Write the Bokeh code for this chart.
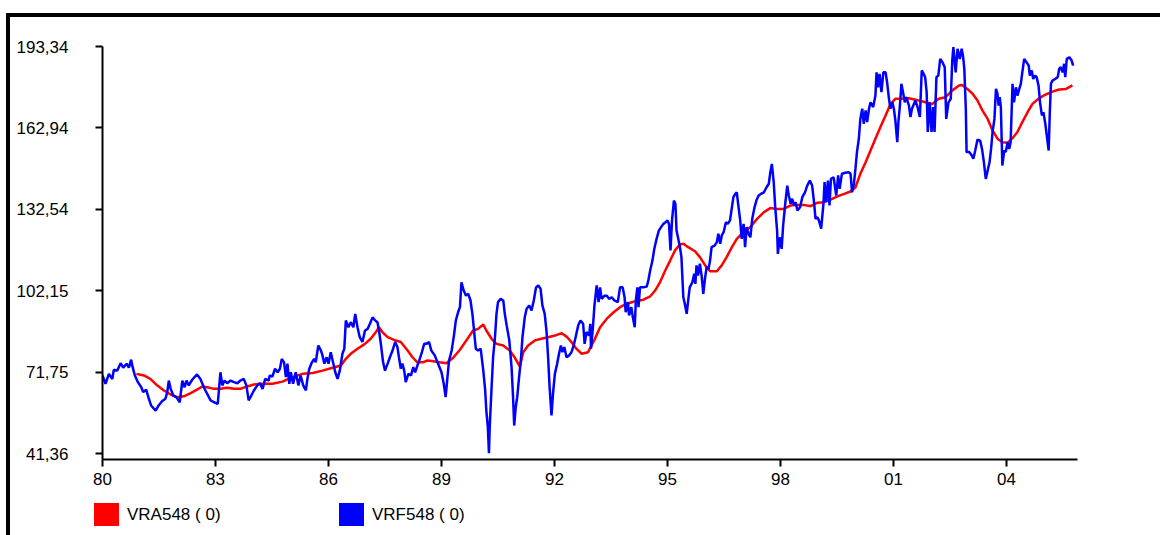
from bokeh.plotting import figure
from bokeh.layouts import column
from bokeh.models import Range1d, FixedTicker, Div
from bokeh.embed import file_html
from bokeh.resources import INLINE

# ---------------- data ----------------
blue_years = [
    1980.00, 1980.08, 1980.17, 1980.26, 1980.30, 1980.39, 1980.48, 1980.55, 1980.64, 1980.70,
    1980.76, 1980.80, 1980.86, 1980.94, 1981.03, 1981.08, 1981.16, 1981.23, 1981.29, 1981.41,
    1981.49, 1981.58, 1981.67, 1981.72, 1981.76, 1981.81, 1981.88, 1981.96, 1982.05, 1982.12,
    1982.18, 1982.23, 1982.29, 1982.38, 1982.51, 1982.60, 1982.69, 1982.78, 1982.87, 1982.96,
    1983.06, 1983.13, 1983.18, 1983.24, 1983.31, 1983.40, 1983.49, 1983.58, 1983.66, 1983.75,
    1983.82, 1983.88, 1983.95, 1984.02, 1984.11, 1984.18, 1984.25, 1984.32, 1984.41, 1984.44,
    1984.51, 1984.58, 1984.65, 1984.71, 1984.76, 1984.82, 1984.87, 1984.91, 1984.96, 1985.00,
    1985.06, 1985.13, 1985.20, 1985.26, 1985.33, 1985.40, 1985.44, 1985.49, 1985.56, 1985.62,
    1985.66, 1985.73, 1985.80, 1985.84, 1985.89, 1985.95, 1986.00, 1986.06, 1986.12, 1986.18,
    1986.24, 1986.30, 1986.37, 1986.42, 1986.46, 1986.53, 1986.59, 1986.66, 1986.71, 1986.77,
    1986.83, 1986.90, 1986.97, 1987.04, 1987.10, 1987.17, 1987.24, 1987.30, 1987.34, 1987.39,
    1987.45, 1987.50, 1987.57, 1987.63, 1987.70, 1987.77, 1987.83, 1987.87, 1987.92, 1987.96,
    1988.01, 1988.05, 1988.12, 1988.19, 1988.25, 1988.30, 1988.36, 1988.41, 1988.48, 1988.54,
    1988.60, 1988.67, 1988.73, 1988.82, 1988.91, 1989.00, 1989.06, 1989.11, 1989.15, 1989.20,
    1989.27, 1989.33, 1989.38, 1989.44, 1989.49, 1989.53, 1989.59, 1989.65, 1989.71, 1989.77,
    1989.82, 1989.86, 1989.91, 1989.97, 1990.04, 1990.11, 1990.16, 1990.19, 1990.23, 1990.26,
    1990.28, 1990.33, 1990.37, 1990.42, 1990.46, 1990.50, 1990.57, 1990.64, 1990.68, 1990.73,
    1990.80, 1990.86, 1990.90, 1990.93, 1990.97, 1991.01, 1991.06, 1991.11, 1991.15, 1991.21,
    1991.26, 1991.33, 1991.39, 1991.45, 1991.51, 1991.57, 1991.63, 1991.68, 1991.74, 1991.79,
    1991.83, 1991.87, 1991.92, 1991.96, 1992.01, 1992.07, 1992.12, 1992.17, 1992.21, 1992.26,
    1992.32, 1992.39, 1992.45, 1992.51, 1992.56, 1992.63, 1992.69, 1992.76, 1992.80, 1992.85,
    1992.92, 1992.95, 1992.97, 1993.02, 1993.06, 1993.12, 1993.17, 1993.21, 1993.25, 1993.33,
    1993.39, 1993.45, 1993.52, 1993.59, 1993.68, 1993.74, 1993.81, 1993.86, 1993.89, 1993.95,
    1993.98, 1994.04, 1994.08, 1994.13, 1994.16, 1994.20, 1994.23, 1994.27, 1994.36, 1994.45,
    1994.49, 1994.54, 1994.60, 1994.65, 1994.71, 1994.77, 1994.83, 1994.89, 1994.95, 1995.00,
    1995.04, 1995.08, 1995.12, 1995.17, 1995.21, 1995.24, 1995.28, 1995.33, 1995.37, 1995.42,
    1995.46, 1995.51, 1995.55, 1995.59, 1995.66, 1995.71, 1995.74, 1995.77, 1995.81, 1995.86,
    1995.91, 1995.95, 1996.00, 1996.04, 1996.09, 1996.13, 1996.17, 1996.25, 1996.31, 1996.35,
    1996.40, 1996.44, 1996.49, 1996.55, 1996.60, 1996.66, 1996.71, 1996.75, 1996.80, 1996.84,
    1996.88, 1996.93, 1996.97, 1997.02, 1997.06, 1997.10, 1997.15, 1997.20, 1997.25, 1997.31,
    1997.36, 1997.42, 1997.48, 1997.56, 1997.63, 1997.69, 1997.73, 1997.77, 1997.82, 1997.86,
    1997.91, 1997.93, 1997.98, 1998.03, 1998.07, 1998.13, 1998.18, 1998.22, 1998.27, 1998.31,
    1998.36, 1998.40, 1998.45, 1998.52, 1998.58, 1998.65, 1998.71, 1998.78, 1998.84, 1998.89,
    1998.93, 1998.98, 1999.02, 1999.08, 1999.14, 1999.17, 1999.21, 1999.26, 1999.30, 1999.34,
    1999.41, 1999.48, 1999.53, 1999.57, 1999.63, 1999.72, 1999.81, 1999.86, 1999.90, 1999.95,
    1999.99, 2000.03, 2000.08, 2000.12, 2000.17, 2000.21, 2000.26, 2000.30, 2000.35, 2000.39,
    2000.46, 2000.52, 2000.55, 2000.59, 2000.63, 2000.68, 2000.73, 2000.79, 2000.83, 2000.88,
    2000.92, 2000.97, 2001.01, 2001.05, 2001.10, 2001.13, 2001.17, 2001.21, 2001.26, 2001.30,
    2001.34, 2001.41, 2001.45, 2001.49, 2001.58, 2001.64, 2001.70, 2001.75, 2001.80, 2001.84,
    2001.88, 2001.91, 2001.96, 2002.01, 2002.05, 2002.09, 2002.14, 2002.19, 2002.24, 2002.30,
    2002.36, 2002.40, 2002.46, 2002.52, 2002.56, 2002.59, 2002.65, 2002.70, 2002.76, 2002.81,
    2002.85, 2002.88, 2002.92, 2002.94, 2003.01, 2003.08, 2003.12, 2003.17, 2003.23, 2003.30,
    2003.35, 2003.40, 2003.45, 2003.51, 2003.55, 2003.59, 2003.63, 2003.68, 2003.72, 2003.76,
    2003.79, 2003.82, 2003.85, 2003.89, 2003.94, 2003.98, 2004.03, 2004.07, 2004.11, 2004.16,
    2004.20, 2004.25, 2004.29, 2004.34, 2004.38, 2004.42, 2004.47, 2004.53, 2004.59, 2004.62,
    2004.67, 2004.71, 2004.76, 2004.80, 2004.85, 2004.89, 2004.94, 2004.98, 2005.03, 2005.07,
    2005.12, 2005.15, 2005.18, 2005.22, 2005.29, 2005.36, 2005.40, 2005.44, 2005.49, 2005.53,
    2005.56, 2005.60, 2005.67, 2005.73, 2005.77,
]
blue_values = [
    70.5, 67.4, 71.1, 69.2, 72.6, 72.3, 75.1, 73.4, 74.9, 73.4,
    76.4, 73.6, 70.5, 68.0, 66.1, 64.3, 65.2, 61.8, 59.3, 57.4,
    59.3, 60.9, 61.8, 64.3, 68.6, 65.5, 63.0, 62.4, 60.5, 68.6,
    66.1, 68.6, 66.8, 68.9, 70.9, 69.2, 66.1, 63.6, 61.2, 60.5,
    59.9, 71.7, 66.8, 68.6, 67.6, 68.6, 68.0, 67.6, 68.6, 69.2,
    66.8, 61.2, 63.0, 64.9, 66.8, 67.6, 65.5, 69.2, 68.6, 70.5,
    70.1, 73.0, 71.7, 73.0, 76.7, 75.4, 69.9, 74.9, 67.4, 71.7,
    67.4, 71.7, 66.8, 70.5, 66.8, 64.9, 69.2, 73.0, 75.4, 76.7,
    75.4, 81.7, 79.8, 78.0, 74.9, 77.3, 74.9, 79.2, 75.4, 71.7,
    69.2, 72.3, 78.6, 80.5, 91.0, 88.5, 90.4, 88.5, 93.5, 88.5,
    84.8, 83.0, 87.3, 87.9, 89.8, 92.2, 91.0, 90.4, 87.3, 82.3,
    75.4, 72.3, 74.9, 77.3, 79.8, 83.0, 81.1, 77.3, 73.0, 74.9,
    72.3, 68.0, 71.1, 70.5, 73.6, 71.7, 74.2, 76.1, 79.2, 82.3,
    82.3, 83.0, 79.8, 78.0, 74.9, 71.7, 67.4, 62.4, 68.6, 76.1,
    79.8, 85.4, 91.0, 94.1, 96.0, 105.3, 102.2, 100.3, 101.0, 98.5,
    93.5, 87.9, 80.5, 79.8, 80.5, 72.3, 64.9, 57.4, 51.2, 41.5,
    51.2, 66.1, 77.3, 84.8, 93.5, 97.9, 99.1, 98.5, 93.5, 89.2,
    83.6, 73.6, 62.4, 51.8, 58.6, 62.4, 69.9, 76.7, 84.8, 92.2,
    95.4, 96.6, 94.8, 98.5, 103.4, 104.1, 102.9, 96.6, 93.5, 86.7,
    77.3, 66.1, 55.6, 63.6, 71.1, 74.9, 78.6, 81.7, 79.2, 81.1,
    77.3, 78.0, 79.2, 81.7, 84.8, 89.2, 91.0, 89.8, 82.3, 86.7,
    85.4, 89.8, 80.5, 88.5, 96.6, 104.1, 97.9, 103.4, 99.1, 100.3,
    100.3, 99.1, 99.7, 98.5, 97.9, 103.4, 103.4, 99.7, 94.1, 97.9,
    92.9, 96.0, 92.2, 88.5, 98.5, 103.4, 96.0, 103.4, 103.4, 103.7,
    105.9, 109.7, 113.4, 117.8, 121.5, 124.6, 125.9, 127.1, 127.7, 128.4,
    127.1, 117.2, 128.4, 135.8, 134.6, 124.6, 121.9, 118.4, 114.7, 99.7,
    97.3, 93.5, 98.5, 103.4, 105.3, 108.5, 104.7, 111.6, 107.8, 112.2,
    107.2, 101.0, 107.2, 110.9, 110.3, 113.4, 118.4, 119.0, 120.3, 123.4,
    119.7, 122.8, 124.0, 127.7, 127.1, 128.4, 133.3, 137.1, 138.3, 138.9,
    134.0, 128.4, 121.5, 127.1, 118.4, 125.9, 123.4, 122.1, 129.0, 133.3,
    135.8, 137.7, 138.3, 138.9, 140.8, 142.1, 146.4, 149.5, 142.7, 133.3,
    124.6, 115.9, 122.1, 117.8, 126.5, 135.2, 141.4, 137.7, 134.6, 136.5,
    134.0, 135.2, 132.1, 133.3, 137.1, 138.9, 141.4, 143.3, 141.4, 135.2,
    129.0, 129.6, 128.4, 125.3, 134.6, 142.7, 135.2, 143.3, 134.0, 143.9,
    144.5, 137.7, 145.2, 140.2, 145.8, 146.2, 146.4, 145.8, 138.9, 142.1,
    147.7, 153.9, 158.9, 166.3, 170.1, 164.5, 169.5, 165.1, 170.1, 172.5,
    170.7, 175.0, 183.7, 178.1, 183.1, 176.3, 183.7, 183.7, 180.0, 173.8,
    170.1, 172.5, 170.1, 165.7, 157.6, 165.1, 171.3, 179.4, 175.7, 172.5,
    174.4, 171.3, 167.0, 170.1, 173.2, 170.7, 167.0, 184.4, 183.1, 181.9,
    176.3, 161.4, 172.5, 161.4, 170.7, 161.4, 181.9, 182.5, 188.7, 187.5,
    185.6, 166.3, 172.5, 173.8, 188.1, 193.1, 183.7, 192.5, 188.7, 192.5,
    189.3, 185.0, 170.1, 153.9, 153.9, 152.6, 151.4, 154.5, 158.6, 158.2,
    155.1, 150.1, 143.9, 147.7, 150.1, 155.1, 161.4, 166.3, 177.5, 175.7,
    171.3, 174.4, 170.7, 148.9, 154.5, 153.9, 157.6, 155.1, 157.6, 179.4,
    172.5, 178.1, 175.0, 177.5, 179.4, 183.7, 188.7, 187.5, 186.2, 182.5,
    184.4, 181.2, 182.5, 181.9, 178.8, 172.5, 167.6, 168.8, 164.5, 160.1,
    154.5, 168.8, 179.4, 180.6, 181.2, 181.9, 185.0, 185.6, 183.7, 186.9,
    181.9, 188.7, 189.3, 188.1, 186.2,
]

red_years = [
    1980.90, 1981.10, 1981.27, 1981.45, 1981.63, 1981.81, 1981.98, 1982.16, 1982.34, 1982.51,
    1982.65, 1982.78, 1982.96, 1983.13, 1983.31, 1983.49, 1983.66, 1983.84, 1984.02, 1984.19,
    1984.51, 1984.78, 1985.04, 1985.31, 1985.58, 1985.84, 1986.11, 1986.33, 1986.46, 1986.59,
    1986.77, 1986.95, 1987.12, 1987.26, 1987.34, 1987.43, 1987.57, 1987.74, 1987.92, 1988.10,
    1988.23, 1988.36, 1988.50, 1988.63, 1988.78, 1988.95, 1989.13, 1989.31, 1989.49, 1989.66,
    1989.84, 1989.97, 1990.11, 1990.19, 1990.33, 1990.46, 1990.64, 1990.81, 1990.95, 1991.08,
    1991.17, 1991.30, 1991.48, 1991.65, 1991.83, 1992.01, 1992.19, 1992.32, 1992.45, 1992.58,
    1992.72, 1992.89, 1993.05, 1993.21, 1993.39, 1993.57, 1993.74, 1993.92, 1994.14, 1994.36,
    1994.54, 1994.67, 1994.80, 1994.94, 1995.07, 1995.20, 1995.33, 1995.42, 1995.55, 1995.73,
    1995.86, 1996.00, 1996.13, 1996.31, 1996.44, 1996.57, 1996.71, 1996.84, 1996.97, 1997.10,
    1997.20, 1997.38, 1997.56, 1997.73, 1997.91, 1998.09, 1998.27, 1998.44, 1998.62, 1998.80,
    1998.98, 1999.15, 1999.33, 1999.51, 1999.69, 1999.86, 1999.99, 2000.12, 2000.26, 2000.39,
    2000.52, 2000.65, 2000.79, 2000.92, 2001.05, 2001.23, 2001.41, 2001.67, 2001.85, 2002.03,
    2002.20, 2002.38, 2002.56, 2002.74, 2002.82, 2002.96, 2003.10, 2003.23, 2003.36, 2003.50,
    2003.63, 2003.76, 2003.89, 2004.03, 2004.16, 2004.29, 2004.42, 2004.56, 2004.69, 2004.82,
    2004.96, 2005.09, 2005.22, 2005.40, 2005.58, 2005.75,
]
red_values = [
    71.1, 70.5, 69.2, 66.8, 64.9, 63.4, 62.4, 62.7, 63.9, 65.2,
    66.4, 66.1, 65.5, 65.5, 65.9, 65.5, 65.5, 66.4, 67.1, 67.4,
    67.4, 68.2, 69.9, 71.1, 71.4, 72.3, 73.4, 74.2, 76.7, 78.6,
    80.5, 82.1, 84.2, 86.7, 88.5, 86.7, 84.8, 83.8, 83.0, 79.8,
    77.3, 75.4, 75.4, 76.1, 75.8, 75.4, 75.1, 77.1, 80.1, 83.6,
    87.3, 87.9, 89.5, 87.3, 84.2, 82.3, 81.7, 79.8, 77.1, 73.8,
    79.2, 81.7, 83.6, 84.2, 84.8, 85.4, 86.3, 85.0, 83.0, 80.5,
    78.6, 79.2, 83.5, 88.5, 91.7, 94.1, 96.0, 97.3, 98.2, 98.8,
    100.0, 102.2, 105.3, 109.7, 113.4, 117.2, 119.4, 119.7, 118.4, 116.9,
    114.7, 111.6, 109.4, 109.4, 111.6, 114.7, 118.4, 121.5, 123.4, 124.9,
    125.9, 129.0, 131.5, 133.0, 132.7, 132.7, 134.0, 134.2, 134.2, 133.7,
    135.0, 135.2, 136.2, 137.4, 138.3, 139.2, 140.8, 145.8, 150.1, 154.5,
    158.9, 163.2, 167.6, 171.9, 173.8, 173.8, 174.0, 173.2, 172.5, 171.9,
    173.8, 174.4, 176.9, 178.8, 179.0, 177.5, 175.7, 173.2, 169.5, 166.3,
    162.0, 158.9, 157.6, 157.4, 159.1, 161.4, 165.1, 168.8, 171.9, 173.5,
    174.8, 175.7, 176.5, 177.3, 177.5, 178.8,
]

y_ticks = [41.36, 71.75, 102.15, 132.54, 162.94, 193.34]
y_tick_labels = ["41,36", "71,75", "102,15", "132,54", "162,94", "193,34"]
x_ticks = [1980, 1983, 1986, 1989, 1992, 1995, 1998, 2001, 2004]
x_tick_labels = ["80", "83", "86", "89", "92", "95", "98", "01", "04"]
series_names = ["VRA548 ( 0)", "VRF548 ( 0)"]
series_colors = ["#ff0000", "#0000ff"]

FONT = "Liberation Sans"
FS = "17px"

# ---------------- main chart ----------------
p = figure(width=1160, height=495, output_backend="svg", toolbar_location=None,
           x_range=Range1d(1980.0, 2005.885), y_range=Range1d(39.12, 193.34),
           min_border_left=102, min_border_right=83, min_border_top=46, min_border_bottom=36)
p.background_fill_color = "white"
p.border_fill_alpha = 0
p.outline_line_color = None
p.grid.visible = False

p.line(red_years, red_values, line_color=series_colors[0], line_width=2.5)
p.line(blue_years, blue_values, line_color=series_colors[1], line_width=2.5)

for ax in (p.xaxis[0], p.yaxis[0]):
    ax.axis_line_color = "black"
    ax.axis_line_width = 2
    ax.major_tick_line_color = "black"
    ax.major_tick_line_width = 2
    ax.major_tick_in = 0
    ax.major_tick_out = 7
    ax.minor_tick_line_color = None
    ax.major_label_text_font = FONT
    ax.major_label_text_font_size = FS
    ax.major_label_text_color = "black"

p.xaxis.ticker = FixedTicker(ticks=x_ticks)
p.xaxis.major_label_overrides = {t: l for t, l in zip(x_ticks, x_tick_labels)}
p.xaxis.major_label_standoff = 6
p.yaxis.ticker = FixedTicker(ticks=y_ticks)
p.yaxis.major_label_overrides = {t: l for t, l in zip(y_ticks, y_tick_labels)}
p.yaxis.major_label_standoff = 27

# ---------------- legend strip ----------------
swatch_left = [94, 339]
parts = []
for name, col, x0 in zip(series_names, series_colors, swatch_left):
    parts.append(
        f'<span style="position:absolute;left:{x0}px;top:8px;width:25px;height:23px;'
        f'background:{col};"></span>'
        f'<span style="position:absolute;left:{x0 + 33}px;top:5px;height:29px;line-height:29px;'
        f'font-family:\'{FONT}\';font-size:{FS};color:#000;white-space:pre;">{name}</span>'
    )
legend_div = Div(text='<div style="position:relative;width:1160px;height:40px;">' + "".join(parts) + "</div>",
                 width=1160, height=40, margin=0)

layout = column(p, legend_div, spacing=0)
# outer frame (top and left black bars) drawn as the container's background
layout.styles = {
    "background": ("linear-gradient(#000,#000) 6px 13px / 1154px 4px no-repeat, "
                   "linear-gradient(#000,#000) 6px 13px / 4px 522px no-repeat, #fff"),
}

open("out.html", "w").write(file_html(layout, INLINE))
